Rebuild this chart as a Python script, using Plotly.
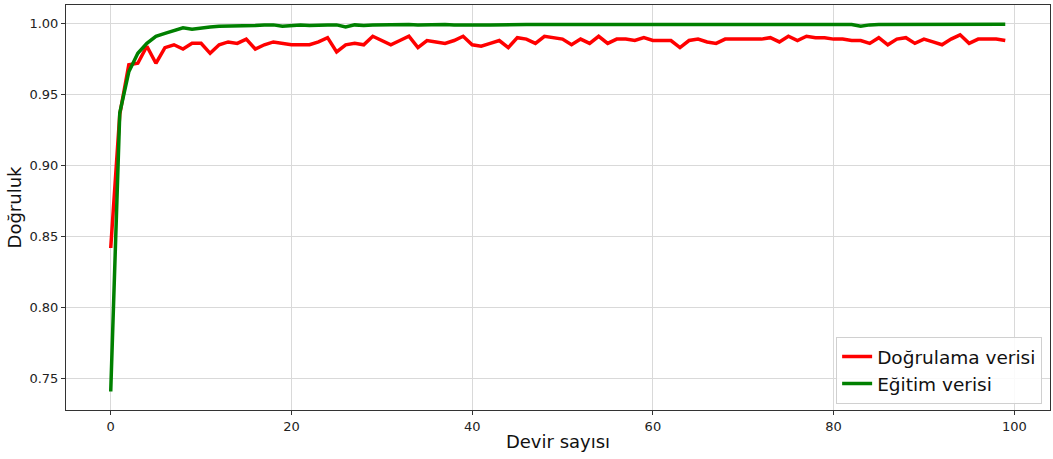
import plotly.graph_objects as go

epochs = list(range(100))

val_acc = [
    0.842, 0.936, 0.971, 0.972, 0.984, 0.972, 0.983, 0.985, 0.982, 0.986,
    0.986, 0.979, 0.985, 0.987, 0.986, 0.989, 0.982, 0.985, 0.987, 0.986,
    0.985, 0.985, 0.985, 0.987, 0.990, 0.980, 0.985, 0.986, 0.985, 0.991,
    0.988, 0.985, 0.988, 0.991, 0.983, 0.988, 0.987, 0.986, 0.988, 0.991,
    0.985, 0.984, 0.986, 0.988, 0.983, 0.990, 0.989, 0.986, 0.991, 0.990,
    0.989, 0.985, 0.989, 0.986, 0.991, 0.986, 0.989, 0.989, 0.988, 0.990,
    0.988, 0.988, 0.988, 0.983, 0.988, 0.989, 0.987, 0.986, 0.989, 0.989,
    0.989, 0.989, 0.989, 0.990, 0.987, 0.991, 0.988, 0.991, 0.990, 0.990,
    0.989, 0.989, 0.988, 0.988, 0.986, 0.990, 0.985, 0.989, 0.990, 0.986,
    0.989, 0.987, 0.985, 0.989, 0.992, 0.986, 0.989, 0.989, 0.989, 0.988,
]

train_acc = [
    0.741, 0.937, 0.966, 0.979, 0.986, 0.991, 0.993, 0.995, 0.997, 0.996,
    0.997, 0.9975, 0.998, 0.998, 0.9985, 0.9985, 0.9985, 0.999, 0.999, 0.998,
    0.9985, 0.999, 0.9985, 0.999, 0.999, 0.999, 0.9975, 0.999, 0.9985, 0.999,
    0.9992, 0.9992, 0.9992, 0.9992, 0.999, 0.9992, 0.999, 0.9992, 0.999, 0.9992,
    0.9992, 0.999, 0.999, 0.9992, 0.999, 0.9992, 0.9992, 0.9992, 0.9992, 0.9992,
    0.999, 0.9992, 0.9992, 0.999, 0.9992, 0.9992, 0.9992, 0.9992, 0.999, 0.9992,
    0.9992, 0.9992, 0.9992, 0.9992, 0.999, 0.9992, 0.9992, 0.999, 0.9992, 0.9992,
    0.9992, 0.9992, 0.9992, 0.9992, 0.9992, 0.9992, 0.9992, 0.9996, 0.9996, 0.9996,
    0.9996, 0.9996, 0.9992, 0.998, 0.999, 0.9992, 0.9992, 0.999, 0.9992, 0.9992,
    0.9992, 0.999, 0.999, 0.999, 0.9995, 0.9995, 0.9995, 0.9995, 0.9995, 0.9995,
]

x_ticks = [0, 20, 40, 60, 80, 100]
y_ticks = [0.75, 0.80, 0.85, 0.90, 0.95, 1.00]

fig = go.Figure()
fig.add_trace(go.Scatter(x=epochs, y=val_acc, mode="lines", name="Doğrulama verisi",
                         line=dict(color="#ff0000", width=3.5)))
fig.add_trace(go.Scatter(x=epochs, y=train_acc, mode="lines", name="Eğitim verisi",
                         line=dict(color="#008000", width=3.5)))

font_family = "DejaVu Sans"
fig.update_layout(
    width=1053, height=459,
    margin=dict(l=66, r=3, t=5, b=49),
    plot_bgcolor="white", paper_bgcolor="white",
    font=dict(family=font_family, color="#222222"),
    showlegend=True,
    legend=dict(x=0.992, y=0.015, xanchor="right", yanchor="bottom",
                bgcolor="rgba(255,255,255,0.85)", bordercolor="#d0d0d0", borderwidth=1,
                font=dict(size=18.5, color="#111111", family=font_family)),
    xaxis=dict(range=[-4.95, 103.95], tickvals=x_ticks, ticks="outside", ticklen=4,
               tickcolor="#333333", showgrid=True, gridcolor="#d9d9d9", gridwidth=1,
               showline=True, linecolor="#333333", linewidth=1, mirror=True, zeroline=False,
               tickfont=dict(size=13, color="#222222"),
               title=dict(text="Devir sayısı", font=dict(size=18, color="#111111"), standoff=2)),
    yaxis=dict(range=[0.728, 1.013], tickvals=y_ticks, tickformat=".2f", ticks="outside", ticklen=4,
               tickcolor="#333333", showgrid=True, gridcolor="#d9d9d9", gridwidth=1,
               showline=True, linecolor="#333333", linewidth=1, mirror=True, zeroline=False,
               tickfont=dict(size=13, color="#222222"),
               title=dict(text="Doğruluk", font=dict(size=18, color="#111111"), standoff=3)),
)

fig.write_html("out.html", config={"displayModeBar": False},
               post_script="document.body.style.margin='0';document.body.style.overflow='hidden';")
